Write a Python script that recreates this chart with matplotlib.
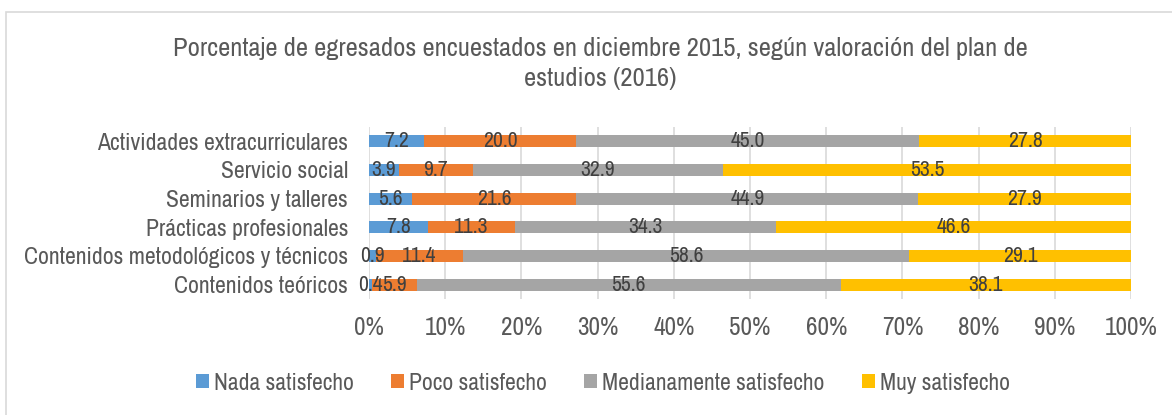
import matplotlib
matplotlib.use("Agg")
import matplotlib.pyplot as plt
import numpy as np
from matplotlib.patches import Rectangle
from matplotlib import font_manager as fm

categories = ["Actividades extracurriculares", "Servicio social", "Seminarios y talleres",
              "Prácticas profesionales", "Contenidos metodológicos y técnicos", "Contenidos teóricos"]
series_names = ["Nada satisfecho", "Poco satisfecho", "Medianamente satisfecho", "Muy satisfecho"]
nada = [7.2, 3.9, 5.6, 7.8, 0.9, 0.4]
poco = [20.0, 9.7, 21.6, 11.3, 11.4, 5.9]
mediana = [45.0, 32.9, 44.9, 34.3, 58.6, 55.6]
muy = [27.8, 53.5, 27.9, 46.6, 29.1, 38.1]
colors = ["#5B9BD5", "#ED7D31", "#A5A5A5", "#FFC000"]
xticks = [0, 10, 20, 30, 40, 50, 60, 70, 80, 90, 100]

title = "Porcentaje de egresados encuestados en diciembre 2015, según valoración del plan de\nestudios (2016)"

# choose a narrow sans-serif (Arial Narrow look-alike) if available
avail = {f.name for f in fm.fontManager.ttflist}
prefs = ['Liberation Sans Narrow', 'Arial Narrow', 'Archivo Narrow', 'Roboto Condensed',
         'Pragati Narrow', 'Encode Sans Condensed', 'Fira Sans Condensed', 'IBM Plex Sans Condensed',
         'PT Sans Narrow', 'Open Sans Condensed', 'Barlow Semi Condensed', 'Liberation Sans']
main = next((p for p in prefs if p in avail), 'DejaVu Sans')
FAM = [main, 'DejaVu Sans']
plt.rcParams['font.family'] = FAM

W, H = 1172, 415
fig = plt.figure(figsize=(W/100, H/100), dpi=100)
renderer = fig.canvas.get_renderer()


def fit_size(text, target_px, base=20.0):
    t = fig.text(0, 0, text, fontsize=base)
    w = t.get_window_extent(renderer).width
    t.remove()
    return base * target_px / w


fs_title = fit_size(title.split("\n")[0], 852)
fs_cat = fit_size("Actividades extracurriculares", 251)
fs_tick = fit_size("100%", 53)
fs_leg = fit_size("Nada satisfecho", 140)
fs_lab = fit_size("45.0", 34.5)

ax = fig.add_axes([369/W, 1-299/H, (1131-369)/W, (299-127)/H])

y = np.arange(len(categories))
left = np.zeros(len(categories))
handles = []
for vals, name, c in zip([nada, poco, mediana, muy], series_names, colors):
    vals = np.array(vals)
    h = ax.barh(y, vals, left=left, height=0.43, color=c, label=name, zorder=3)
    handles.append(h)
    for yi, l, v in zip(y, left, vals):
        ax.text(l + v/2, yi, f"{v:.1f}", ha='center', va='center', fontsize=fs_lab,
                color='#404040', zorder=4)
    left = left + vals

ax.set_ylim(len(categories)-0.5, -0.5)
ax.set_xlim(0, 100)
ax.set_yticks(y)
ax.set_yticklabels(categories, fontsize=fs_cat, color='#595959')
ax.set_xticks(xticks)
ax.set_xticklabels([f"{t}%" for t in xticks], fontsize=fs_tick, color='#595959')
ax.tick_params(axis='both', length=0)
ax.tick_params(axis='x', pad=12)
ax.tick_params(axis='y', pad=15)
for s in ax.spines.values():
    s.set_visible(False)
ax.grid(axis='x', color='#D9D9D9', linewidth=1.2, zorder=0)

# title with line advance of ~31 px
t1 = fig.text(0, 0, "A", fontsize=fs_title, linespacing=1.0)
h1 = t1.get_window_extent(renderer).height
t1.remove()
t2 = fig.text(0, 0, "A\nA", fontsize=fs_title, linespacing=1.0)
h2 = t2.get_window_extent(renderer).height
t2.remove()
ls = 31.0 / (h2 - h1)
fig.text(600/W, 1-63.5/H, title, ha='center', va='center', fontsize=fs_title,
         color='#595959', linespacing=ls)

fpx = fs_leg * 100 / 72
fig.legend(handles=handles, loc='center', bbox_to_anchor=(603/W, 1-383/H),
           ncol=4, frameon=False, fontsize=fs_leg, handlelength=13/fpx, handleheight=13/fpx,
           handletextpad=5/fpx, columnspacing=37/fpx, labelcolor='#595959',
           borderpad=0, borderaxespad=0)

fig.patches.append(Rectangle((6/W, -0.1), 2, 1-12/H+0.1, transform=fig.transFigure,
                             fill=False, edgecolor='#D9D9D9', linewidth=1.2))

fig.savefig("out.png", dpi=100)
